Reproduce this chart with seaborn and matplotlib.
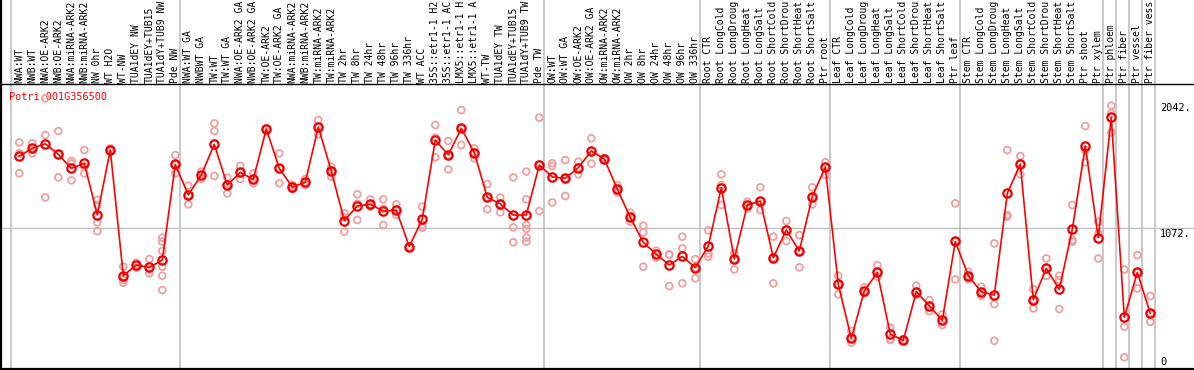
import numpy as np
import pandas as pd
import matplotlib
matplotlib.use("Agg")
import matplotlib.pyplot as plt
import matplotlib.transforms as mtransforms
import seaborn as sns

title = "Potri.001G356500"

labels = [
    "NWA:WT", "NWB:WT", "NWA:OE-ARK2", "NWB:OE-ARK2", "NWA:miRNA-ARK2", "NWB:miRNA-ARK2",
    "NW 0hr", "WT H2O", "WT-NW", "TUA1dEY NW", "TUA1dEY+TUB15", "TUA1dY+TUB9 NW", "Pde NW",
    "NWA:WT GA", "NWBWT GA", "TW:WT", "TW:WT GA", "NWA:OE-ARK2 GA", "NWB:OE-ARK2 GA",
    "TW:OE-ARK2", "TW:OE-ARK2 GA", "NWA:miRNA-ARK2", "NWB:miRNA-ARK2", "TW:miRNA-ARK2",
    "TW:miRNA-ARK2", "TW 2hr", "TW 8hr", "TW 24hr", "TW 48hr", "TW 96hr", "TW 336hr",
    "WT ACC", "35S::etr1-1 H2", "35S::etr1-1 AC", "LMX5::etr1-1 H", "LMX5::etr1-1 A",
    "WT-TW", "TUA1dEY TW", "TUA1dEY+TUB15", "TUA1dY+TUB9 TW", "Pde TW",
    "OW:WT", "OW:WT GA", "OW:OE-ARK2", "OW:OE-ARK2 GA", "OW:miRNA-ARK2", "OW:miRNA-ARK2",
    "OW 2hr", "OW 8hr", "OW 24hr", "OW 48hr", "OW 96hr", "OW 336hr",
    "Root CTR", "Root LongCold", "Root LongDroug", "Root LongHeat", "Root LongSalt",
    "Root ShortCold", "Root ShortDrou", "Root ShortHeat", "Root ShortSalt", "Ptr root",
    "Leaf CTR", "Leaf LongCold", "Leaf LongDroug", "Leaf LongHeat", "Leaf LongSalt",
    "Leaf ShortCold", "Leaf ShortDrou", "Leaf ShortHeat", "Leaf ShortSalt", "Ptr leaf",
    "Stem CTR", "Stem LongCold", "Stem LongDroug", "Stem LongHeat", "Stem LongSalt",
    "Stem ShortCold", "Stem ShortDrou", "Stem ShortHeat", "Stem ShortSalt",
    "Ptr shoot", "Ptr xylem", "Ptr phloem", "Ptr fiber", "Ptr vessel", "Ptr fiber vess",
]

means = [
    1653, 1715, 1752, 1667, 1554, 1594, 1179, 1702, 691, 777, 758, 817, 1586,
    1340, 1501, 1747, 1420, 1522, 1466, 1871, 1554, 1404, 1442, 1887, 1533,
    1134, 1252, 1265, 1211, 1219, 925, 1147, 1782, 1662, 1876, 1680, 1321,
    1268, 1179, 1179, 1581, 1485,
    1474, 1560, 1694, 1629, 1388, 1160, 959, 863, 777, 847, 756, 930,
    1399, 825, 1260, 1292, 836, 1059, 890, 1327, 1565, 622,
    188, 568, 718, 222, 171, 562, 450, 332, 967, 691,
    562, 536, 1353, 1589, 498, 750, 581, 1064, 1734, 997,
    1964, 356, 718, 388,
]

replicates = [
    [1763, 1675, 1514], [1755, 1715, 1675], [2117, 1822, 1321], [1854, 1665, 1482],
    [1613, 1594, 1458], [1701, 1570, 1514], [1300, 1259, 1120, 1050], [1715, 1693, 1700],
    [764, 656, 635], [796, 777, 756], [825, 740, 710], [997, 965, 890, 764, 691, 576],
    [1661, 1583, 1514],
    [1415, 1340, 1265], [1528, 1501, 1469], [1916, 1854, 1493], [1479, 1428, 1353],
    [1573, 1522, 1469], [1514, 1466, 1434], [1876, 1871, 1866], [1675, 1554, 1434],
    [1420, 1404, 1388], [1469, 1442, 1420], [1943, 1887, 1828], [1568, 1533, 1487],
    [1193, 1160, 1045], [1345, 1270, 1139], [1305, 1265, 1246], [1305, 1230, 1099],
    [1265, 1219, 1179], [925, 925, 925], [1246, 1099, 1077], [1903, 1801, 1643],
    [1774, 1662, 1546], [2023, 1876, 1742], [1715, 1680, 1635], [1428, 1321, 1225],
    [1319, 1268, 1201], [1482, 1080, 960], [1528, 1305, 1099, 1067, 997, 965],
    [1962, 1586, 1211], [1595, 1573, 1281],
    [1621, 1474, 1332], [1608, 1560, 1506], [1796, 1694, 1592], [1621, 1629, 1637],
    [1420, 1388, 1361], [1198, 1160, 1126], [1093, 1040, 764], [892, 863, 836],
    [863, 860, 608], [1005, 911, 630], [825, 756, 670], [1056, 871, 844],
    [1506, 1420, 1260], [871, 825, 742], [1286, 1260, 1233], [1402, 1292, 1219],
    [1005, 836, 630], [1131, 1059, 970], [1018, 890, 758], [1402, 1327, 1265],
    [1603, 1565, 1501], [691, 622, 541],
    [247, 188, 153], [598, 568, 550], [777, 718, 683], [273, 182, 174], [182, 171, 166],
    [611, 562, 536], [495, 450, 407], [380, 332, 294], [1273, 967, 662], [723, 691, 664],
    [603, 562, 530], [951, 463, 168], [1702, 1179, 1166], [1653, 1589, 1506],
    [584, 498, 428], [830, 750, 691], [691, 656, 423], [1259, 978, 964],
    [1894, 1701, 1602], [1125, 1032, 830],
    [2058, 1996, 1841], [742, 281, 35], [857, 718, 589], [528, 388, 321],
]

group_starts = [0, 13, 41, 53, 63, 73, 84, 85, 86, 87, 88]
axis_values = [2042, 1072, 0]
axis_texts = ["2042.", "1072.", "0"]

# ---------------------------------------------------------------- figure
W, H = 1194, 370
fig = plt.figure(figsize=(W / 100, H / 100), dpi=100)
ax = fig.add_axes([0, 0, 1, 1])

X0, DX = 19.3, 13.0       # pixel x of first category and spacing
Y0, K = 361.7, 0.1244     # pixel y of value 0 and pixels per unit


def xi(px):
    return (px - X0) / DX


def yv(py):
    return (Y0 - py) / K


mean_df = pd.DataFrame({"idx": np.arange(len(means)), "value": means})
rep_df = pd.DataFrame(
    [(i, v) for i, vals in enumerate(replicates) for v in vals], columns=["idx", "value"]
)

grid_c = "#c0c0c0"
for g in group_starts:
    ax.axvline(g - 0.615, color=grid_c, lw=1.2, zorder=0)
ax.axhline(1072, color=grid_c, lw=1.0, zorder=0)

sns.scatterplot(data=rep_df, x="idx", y="value", ax=ax, marker="o", s=24,
                facecolor="none", edgecolor="#f0a0a0", linewidth=1.3, zorder=2,
                legend=False)
sns.lineplot(data=mean_df, x="idx", y="value", ax=ax, sort=False, color="#ff0000",
             lw=1.2, marker="o", markersize=6, markerfacecolor="none",
             markeredgecolor="#ee0000", markeredgewidth=1.6, zorder=3, legend=False)

ax.set_xlim(xi(0), xi(W))
ax.set_ylim(yv(H), yv(0))
ax.axis("off")

# frame lines
ax.axhline(yv(84.5), color="black", lw=1.0, zorder=4)
ax.axhline(yv(368.8), color="black", lw=1.6, zorder=4)
ax.axvline(xi(0.8), color="black", lw=1.6, zorder=4)

mono = "DejaVu Sans Mono"
for i, lab in enumerate(labels):
    ax.text(i, yv(83.4), lab, rotation=90, ha="center", va="bottom",
            fontsize=7.05, family=mono, color="black")

ax.text(xi(8.5), yv(97.3), title, ha="left", va="center", fontsize=7.4,
        family=mono, color="#ff0000", zorder=1)

trans = mtransforms.blended_transform_factory(ax.transAxes, ax.transData)
for v, t in zip(axis_values, axis_texts):
    if v == 1072:
        ax.text(1160 / W, v - 3, t, transform=trans, ha="left", va="top",
                fontsize=7.4, family=mono, color="black")
    else:
        ax.text(1160 / W, v, t, transform=trans, ha="left", va="center",
                fontsize=7.4, family=mono, color="black")

fig.savefig("out.png", dpi=100, facecolor="white")
